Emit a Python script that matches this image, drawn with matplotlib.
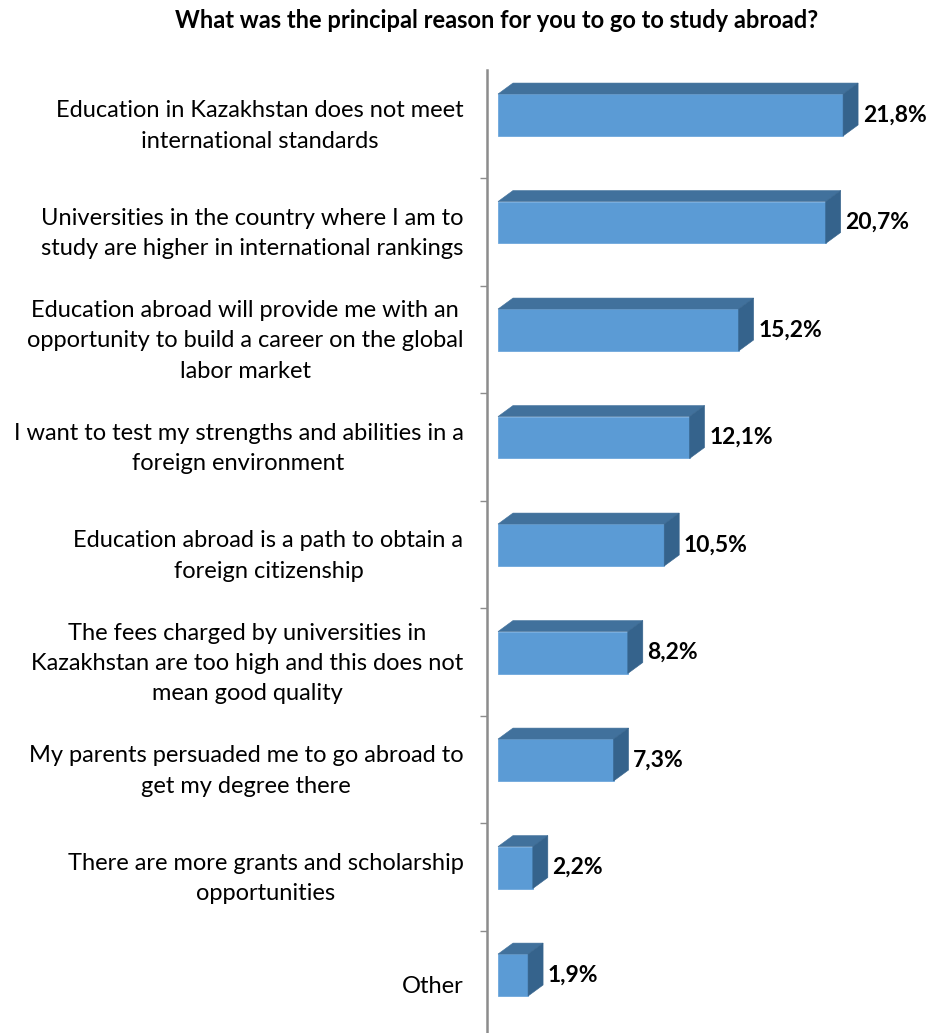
import matplotlib.pyplot as plt
import matplotlib.transforms as mtransforms
from matplotlib.patches import Polygon, Rectangle

plt.rcParams['font.family'] = ['Lato', 'DejaVu Sans']

# Data
reasons = [
    'Education in Kazakhstan does not meet\ninternational standards',
    'Universities in the country where I am to\nstudy are higher in international rankings',
    'Education abroad will provide me with an\nopportunity to build a career on the global\nlabor market',
    'I want to test my strengths and abilities in a\nforeign environment',
    'Education abroad is a path to obtain a\nforeign citizenship',
    'The fees charged by universities in\nKazakhstan are too high and this does not\nmean good quality',
    'My parents persuaded me to go abroad to\nget my degree there',
    'There are more grants and scholarship\nopportunities',
    'Other',
]
shares = [21.8, 20.7, 15.2, 12.1, 10.5, 8.2, 7.3, 2.2, 1.9]
value_labels = ['21,8%', '20,7%', '15,2%', '12,1%', '10,5%', '8,2%', '7,3%', '2,2%', '1,9%']

# colours of the 3D faces
front_color = '#5b9bd5'
top_color = '#41719c'
side_color = '#35638c'

fig = plt.figure(figsize=(9.3, 10.33), dpi=100)
ax = fig.add_axes([487 / 930, 0, 443 / 930, 1 - 70.5 / 1033])

px_per_unit = 15.83
ax.set_xlim(-11 / px_per_unit, -11 / px_per_unit + 443 / px_per_unit)
ax.set_ylim(8.453, -0.5)

# bar geometry (in data units)
half_h = 0.195
lift = 0.086
dx = 15 / px_per_unit
dy = 11 / 107.5

for i, v in enumerate(shares):
    top = i - lift - half_h
    bottom = i - lift + half_h
    ax.add_patch(Rectangle((0, top), v, bottom - top, facecolor=front_color,
                           edgecolor='#6fa8dc', linewidth=0.6))
    ax.add_patch(Polygon([(0, top), (v, top), (v + dx, top - dy), (dx, top - dy)],
                         closed=True, facecolor=top_color, edgecolor=top_color, linewidth=0.4))
    ax.add_patch(Polygon([(v, top), (v, bottom), (v + dx, bottom - dy), (v + dx, top - dy)],
                         closed=True, facecolor=side_color, edgecolor=side_color, linewidth=0.4))
    ax.text(v + dx + 0.3, i - lift, value_labels[i], ha='left', va='center',
            fontsize=16.5, fontweight='bold', color='black')

# axis: boundary ticks and category labels
for s in ['top', 'right', 'bottom']:
    ax.spines[s].set_visible(False)
ax.spines['left'].set_color('#8c8c8c')
ax.spines['left'].set_linewidth(1.8)
ax.set_xticks([])
ax.set_yticks([i + 0.5 for i in range(len(reasons) - 1)])
ax.set_yticklabels([])
ax.tick_params(axis='y', which='major', length=5, width=1, color='#8c8c8c')
ax.set_yticks(range(len(reasons)), minor=True)
ax.set_yticklabels(reasons, minor=True, fontsize=17, linespacing=1.55)
ax.tick_params(axis='y', which='minor', length=0, pad=17)
# multi-line labels sit a little higher in the original
shift_up = mtransforms.ScaledTranslation(0, 5 / 100, fig.dpi_scale_trans)
for lbl in ax.get_yticklabels(minor=True):
    lbl.set_multialignment('center')
    if '\n' in lbl.get_text():
        lbl.set_transform(lbl.get_transform() + shift_up)

fig.text(497 / 930, 1 - 20 / 1033, 'What was the principal reason for you to go to study abroad?',
         ha='center', va='center', fontsize=17, fontweight='bold')

plt.savefig('out.png', dpi=100)
